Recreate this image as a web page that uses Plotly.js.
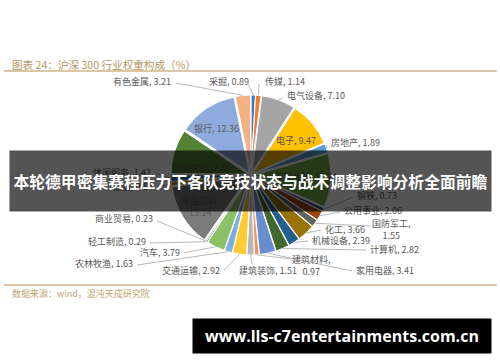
<!DOCTYPE html>
<html>
<head>
<meta charset="utf-8">
<script src="https://cdn.plot.ly/plotly-3.0.1.min.js"></script>
<style>
html,body{margin:0;padding:0;background:#fff;}
#chart{width:500px;height:362px;}
</style>
</head>
<body>
<div id="chart"></div>
<script>
// ---- data ----
const industries = ["采掘","传媒","电气设备","电子","房地产","非银金融","钢铁","公用事业","国防军工","化工","机械设备","计算机","家用电器","建筑材料","建筑装饰","交通运输","农林牧渔","汽车","轻工制造","商业贸易","食品饮料","通信","休闲服务","医药生物","银行","有色金属"];
const weights = [0.89,1.14,7.10,9.47,1.89,11.24,0.73,2.06,1.55,3.66,2.39,2.82,3.41,0.97,1.51,2.92,1.63,3.79,0.29,0.23,13.14,0.84,1.42,9.34,12.36,3.21];
const sliceColors = ["#4472C4","#ED7D31","#A5A5A5","#FFC000","#5B9BD5","#70AD47","#264478","#9E480E","#636363","#997300","#255E91","#43682B","#698ED0","#F1975A","#B7B7B7","#FFCD33","#7CAFDD","#8CC168","#2F5597","#C55A11","#7B7B7B","#BF9000","#2E75B6","#548235","#8FAADC","#F4B183"];
const chartTitle = "图表 24：沪深 300 行业权重构成（%）";
const sourceText = "数据来源：wind，混沌天成研究院";
const bannerText = "本轮德甲密集赛程压力下各队竞技状态与战术调整影响分析全面前瞻";
const urlText = "www.lls-c7entertainments.com.cn";

// ---- layout helpers (positions in pixels) ----
const W = 500, H = 362;
const PULL = 0.04;
const CX = 251, CY = 175, ROUT = 80;
const px = v => v / W;
const py = v => 1 - v / H;

// label placement: [x, y, xanchor, lineEndX, lineEndY, twoLine]; null line => inside label
const labelPos = {
  "采掘":[207,81,"left",248,84],
  "传媒":[263,81,"left",259,84],
  "电气设备":[285,95,"left",283,98],
  "电子":[296,140,"center",null,null],
  "房地产":[329,142,"left",327,145],
  "非银金融":[305,176,"center",null,null],
  "钢铁":[355,195,"left",353,197],
  "公用事业":[342,210,"left",340,212],
  "国防军工":[391,229,"center",370,226,true],
  "化工":[323,229,"left",321,230],
  "机械设备":[310,240,"left",308,241],
  "计算机":[368,249,"left",366,250],
  "家用电器":[354,270,"left",352,271],
  "建筑材料":[311,265,"center",291,259,true],
  "建筑装饰":[237,270,"left",252,264],
  "交通运输":[222,270,"right",224,270],
  "农林牧渔":[135,263,"right",137,265],
  "汽车":[182,252,"right",184,253],
  "轻工制造":[148,242,"right",150,243],
  "商业贸易":[155,219,"right",157,221],
  "食品饮料":[200,206,"center",null,null,true],
  "通信":[155,187,"right",157,187],
  "休闲服务":[153,172,"right",155,173],
  "医药生物":[201,167,"center",null,null],
  "银行":[216,128,"center",null,null],
  "有色金属":[173,81,"right",176,83]
};

const total = weights.reduce((a,b)=>a+b,0);
const annotations = [];
const shapes = [];
let cum = 0;
industries.forEach((name,i)=>{
  const w = weights[i];
  const mid = (cum + w/2) / total * 2 * Math.PI;
  cum += w;
  const p = labelPos[name];
  const valStr = w.toFixed(2);
  const txt = p[5] ? name + ",<br>" + valStr : name + ", " + valStr;
  annotations.push({
    xref:"paper", yref:"paper", x:px(p[0]), y:py(p[1]),
    xanchor:p[2], yanchor:"middle", showarrow:false, align:"center",
    text:txt, font:{family:"Noto Sans CJK SC, sans-serif", size:9, color:"#595959"}
  });
  if (p[3] !== null) {
    const ex = CX + ROUT * Math.sin(mid);
    const ey = CY - ROUT * Math.cos(mid);
    shapes.push({
      type:"line", xref:"paper", yref:"paper",
      x0:px(ex), y0:py(ey), x1:px(p[3]), y1:py(p[4]),
      line:{color:"#A6A6A6", width:0.8}
    });
  }
});

// title and source
annotations.unshift({
  xref:"paper", yref:"paper", x:px(10), y:py(64), xanchor:"left", yanchor:"middle",
  showarrow:false, text:chartTitle,
  font:{family:"Noto Sans CJK SC, sans-serif", size:10.6, color:"#B7975F"}
});
annotations.push({
  xref:"paper", yref:"paper", x:px(10), y:py(293), xanchor:"left", yanchor:"middle",
  showarrow:false, text:sourceText,
  font:{family:"Noto Sans CJK SC, sans-serif", size:9, color:"#C0A470"}
});
shapes.push({type:"line", xref:"paper", yref:"paper", x0:px(4), x1:px(497), y0:py(71), y1:py(71), line:{color:"#CDB588", width:1.3}});
shapes.push({type:"line", xref:"paper", yref:"paper", x0:px(4), x1:px(497), y0:py(285), y1:py(285), line:{color:"#CDB588", width:1.3}});

// banner overlay
annotations.push({
  xref:"paper", yref:"paper", x:px(250.5), y:py(181), xanchor:"center", yanchor:"middle",
  showarrow:false, text:bannerText, width:481, height:60, borderpad:0,
  bgcolor:"rgba(0,0,0,0.67)",
  font:{family:"Noto Sans CJK SC, sans-serif", size:15.8, color:"#FFFFFF", weight:700}
});
// url box
annotations.push({
  xref:"paper", yref:"paper", x:px(342), y:py(336), xanchor:"center", yanchor:"middle",
  showarrow:false, text:urlText, width:298, height:34, borderpad:0,
  bgcolor:"#000000",
  font:{family:"Open Sans, sans-serif", size:16, color:"#FFFFFF", weight:700}
});

const trace = {
  type:"pie",
  labels:industries,
  values:weights,
  sort:false,
  direction:"clockwise",
  rotation:0,
  pull:weights.map(()=>PULL),
  textinfo:"none",
  hoverinfo:"label+value",
  marker:{colors:sliceColors, line:{color:"#FFFFFF", width:1}},
  domain:{x:[px(CX-ROUT), px(CX+ROUT)], y:[py(CY+ROUT), py(CY-ROUT)]},
  showlegend:false
};

Plotly.newPlot("chart",[trace],{
  width:W, height:H,
  margin:{l:0,r:0,t:0,b:0},
  paper_bgcolor:"#FFFFFF",
  showlegend:false,
  annotations:annotations,
  shapes:shapes
},{displayModeBar:false, staticPlot:true});
</script>
</body>
</html>
